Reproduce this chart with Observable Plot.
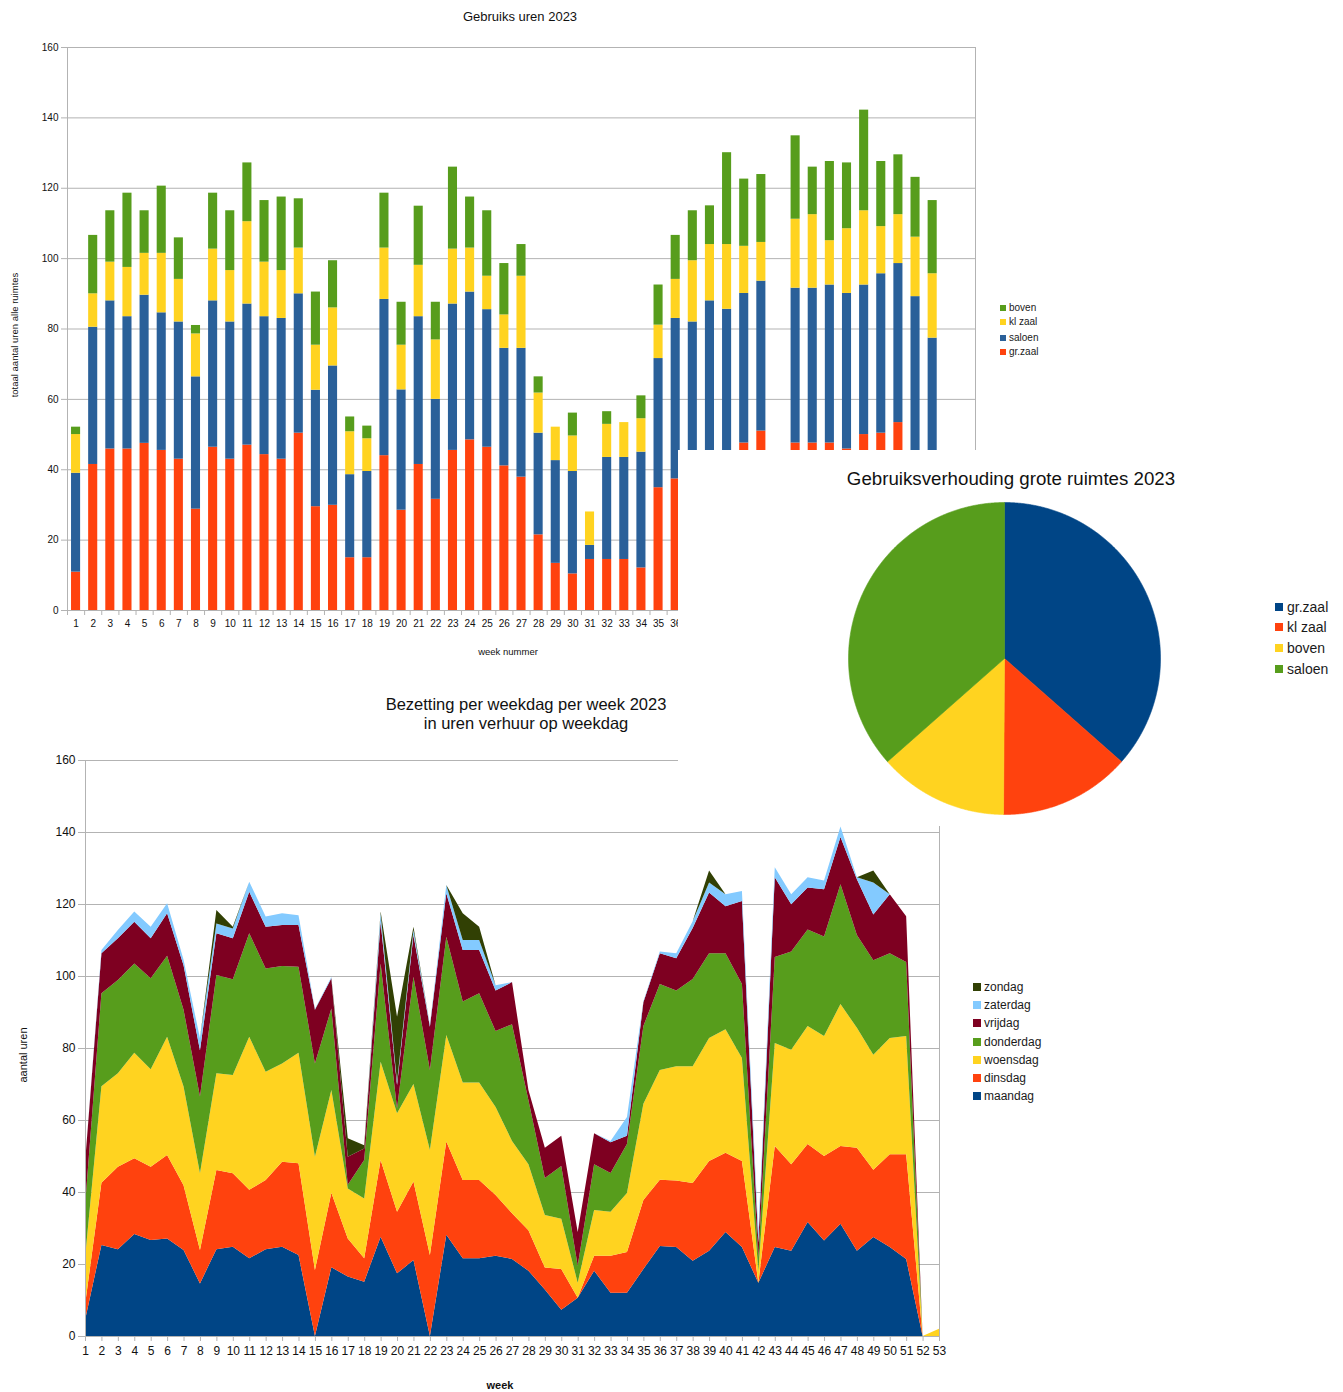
<!DOCTYPE html>
<html>
<head>
<meta charset="utf-8">
<script src="https://cdn.jsdelivr.net/npm/d3@7"></script>
<script src="https://cdn.jsdelivr.net/npm/@observablehq/plot@0.6"></script>
<style>
  body { margin: 0; background: #fff; font-family: "Liberation Sans", Arial, sans-serif; color: #111; }
  #root { position: relative; width: 1343px; height: 1392px; overflow: hidden; background: #fff; }
  .box { position: absolute; background: #fff; }
  .abs { position: absolute; white-space: nowrap; }
  .ctr { transform: translate(-50%, -50%); }
  .item { position: absolute; display: flex; align-items: center; white-space: nowrap; transform: translateY(-50%); }
  .sw { display: inline-block; }
  svg { overflow: visible; }
</style>
</head>
<body>
<div id="root"></div>
<script>
// ---------- categories ----------
const weeks = d3.range(1, 54);
const yTicks = [0, 20, 40, 60, 80, 100, 120, 140, 160];

// ---------- chart 1: Gebruiks uren 2023 (stacked bars) ----------
const topSeries = ["gr.zaal", "saloen", "kl zaal", "boven"];
const topColors = ["#ff420e", "#2a6099", "#ffd320", "#579d1c"];
const grZaal = [10.9,41.5,45.9,45.9,47.5,45.5,43.0,28.8,46.4,43.0,
  47.0,44.3,43.0,50.4,29.5,29.9,15.0,15.0,44.0,28.5,
  41.5,31.6,45.5,48.5,46.4,41.1,37.9,21.5,13.4,10.4,
  14.5,14.5,14.5,12.1,34.9,37.4,40,42,40,47.6,
  51.0,0,47.6,47.6,47.6,45.9,50.0,50.4,53.4,45,
  40,0,0];
const saloen = [28.1,39.0,42.1,37.6,42.1,39.1,39.0,37.6,41.6,39.0,
  40.1,39.2,40.0,39.6,33.1,39.6,23.6,24.5,44.4,34.2,
  42.0,28.4,41.6,42.0,39.1,33.4,36.6,28.9,29.2,29.1,
  4.0,29.0,29.0,32.9,36.7,45.6,42.0,46.0,45.6,42.5,
  42.6,0,44.0,44.0,44.9,44.2,42.5,45.3,45.2,44.2,
  37.4,0,0];
const klZaal = [11.0,9.5,11.0,14.0,11.9,16.9,12.1,12.2,14.7,14.6,
  23.4,15.5,13.6,13.0,12.8,16.5,12.2,9.3,14.6,12.7,
  14.6,16.9,15.6,12.5,9.5,9.5,20.5,11.4,9.5,10.1,
  9.5,9.4,9.9,9.5,9.5,11.1,17.4,16.0,18.4,13.4,
  11.0,0,19.6,20.9,12.6,18.4,21.1,13.4,13.9,16.9,
  18.3,0,0];
const boven = [2.1,16.6,14.6,21.1,12.1,19.1,11.8,2.4,15.9,17.0,
  16.7,17.5,20.9,14.0,15.1,13.4,4.2,3.6,15.6,12.2,
  16.8,10.7,23.3,14.5,18.6,14.6,9.0,4.6,0,6.5,
  0,3.6,0,6.5,11.4,12.5,14.2,11.0,26.1,19.1,
  19.3,0,23.7,13.5,22.5,18.7,28.6,18.5,17.0,17.0,
  20.8,0,0];
const topLegendOrder = ["boven", "kl zaal", "saloen", "gr.zaal"];

// ---------- chart 2: Gebruiksverhouding grote ruimtes 2023 (pie) ----------
const pieNames = ["gr.zaal", "kl zaal", "boven", "saloen"];
const pieValues = [36.5, 13.6, 13.4, 36.5];
const pieColors = ["#004586", "#ff420e", "#ffd320", "#579d1c"];

// ---------- chart 3: Bezetting per weekdag per week 2023 (stacked area) ----------
const days = ["maandag", "dinsdag", "woensdag", "donderdag", "vrijdag", "zaterdag", "zondag"];
const dayColors = ["#004586", "#ff420e", "#ffd320", "#579d1c", "#7e0021", "#83caff", "#314004"];
const maandag = [4.4,25.3,24.1,28.3,26.7,27.1,23.9,14.6,24.1,24.8,
  21.6,24.1,24.8,22.5,0,19.1,16.5,15.1,27.6,17.4,
  21.1,0,28.1,21.6,21.6,22.3,21.4,18.1,12.9,7.3,
  10.6,18.1,12.0,12.0,18.6,25.0,24.7,20.9,23.7,28.9,
  24.7,14.8,24.7,23.7,31.7,26.5,31.2,23.7,27.5,24.7,
  21.4,0,0];
const dinsdag = [4.2,17.3,22.9,21.1,20.3,23.2,18.0,9.3,22.0,20.4,
  19.0,19.2,23.6,25.5,18.3,20.7,10.6,6.5,21.3,17.1,
  21.8,22.5,25.9,21.7,21.7,16.9,12.7,11.3,6.1,11.3,
  0,4.2,10.3,11.3,19.2,18.4,18.5,21.6,24.9,22.0,
  23.9,0,28.1,24.0,21.6,23.5,21.6,28.6,18.7,25.8,
  29.1,0,0];
const woensdag = [13.0,26.8,26.0,29.3,27.1,32.8,27.4,21.3,26.9,27.3,
  42.5,30.1,27.3,30.7,31.5,28.5,13.9,16.6,27.3,27.4,
  27.1,29.2,29.6,27.1,27.1,24.4,20.1,18.3,14.6,14.0,
  4.2,12.7,12.2,16.4,26.7,30.5,31.7,32.4,34.2,34.3,
  28.6,3.2,28.6,31.8,32.8,33.3,39.4,33.3,31.9,32.3,
  32.8,0,2];
const donderdag = [14.4,25.8,25.9,24.8,25.3,22.5,21.3,21.3,27.3,26.6,
  28.8,28.7,27.1,23.9,25.9,22.7,1.0,10.7,27.3,1.3,
  29.8,22.2,27.3,22.5,24.8,21.1,32.4,17.8,10.3,14.6,
  4.7,12.7,10.8,13.6,21.6,23.9,21.1,24.3,23.5,21.1,
  20.6,4.0,23.9,27.3,26.8,27.7,33.3,25.8,26.3,23.5,
  20.6,0,0];
const vrijdag = [12.0,11.1,11.6,11.6,11.1,11.8,12.4,12.9,11.6,11.4,
  11.5,11.6,11.4,11.6,14.9,8.4,7.8,3.2,11.6,6.5,
  11.6,12.0,12.1,14.3,12.0,11.3,11.7,2.8,8.4,8.4,
  9.4,8.6,8.5,2.3,6.6,8.5,8.9,14.1,16.9,13.1,
  23.0,4.0,22.1,13.1,11.7,13.1,13.1,15.5,12.7,16.4,
  12.7,0,0];
const zaterdag = [0,0.9,2.3,2.8,3.2,2.8,1.5,3.3,2.7,2.7,
  2.8,2.8,3.2,2.7,0.2,0.3,0,0,2.3,0.9,
  1.4,0.5,2.3,2.8,2.8,1.4,0,0,0,0,
  0,0,0.4,5.2,0.3,0.5,1.4,1.9,2.8,3.3,
  2.8,3.0,2.8,2.8,2.8,2.4,2.9,0.5,8.9,0,
  0,0,0];
const zondag = [0,0,0,0,0,0,0,0,3.7,0.5,
  0,0,0,0,0,0,5.1,0.9,0.5,18.1,
  0.9,0,0,7.4,3.7,0,0,0,0,0,
  0,0,0,0,0,0,0,0,3.3,0,
  0,0,0,0,0,0,0,0,3.3,0,
  0,0,0];
const dayLegendOrder = ["zondag", "zaterdag", "vrijdag", "donderdag", "woensdag", "dinsdag", "maandag"];

// ---------- helpers ----------
const root = document.getElementById("root");
const FONT = "'Liberation Sans', Arial, sans-serif";
function box(left, top, width, height) {
  const d = document.createElement("div");
  d.className = "box";
  Object.assign(d.style, {left: left + "px", top: top + "px", width: width + "px", height: height + "px"});
  root.appendChild(d);
  return d;
}
function text(parent, str, x, y, css) {
  const d = document.createElement("div");
  d.className = "abs ctr";
  d.textContent = str;
  Object.assign(d.style, {left: x + "px", top: y + "px"}, css || {});
  parent.appendChild(d);
  return d;
}
function place(parent, node, left, top) {
  node.style.position = "absolute";
  node.style.left = left + "px";
  node.style.top = top + "px";
  parent.appendChild(node);
}
function legend(parent, names, colorOf, x, ys, sw, gap, fontSize) {
  names.forEach((n, i) => {
    const it = document.createElement("div");
    it.className = "item";
    Object.assign(it.style, {left: x + "px", top: ys[i] + "px", fontSize: fontSize + "px", lineHeight: "1", color: "#1a1a1a"});
    const s = document.createElement("span");
    s.className = "sw";
    Object.assign(s.style, {width: sw + "px", height: sw + "px", background: colorOf(n), marginRight: gap + "px"});
    it.appendChild(s);
    it.appendChild(document.createTextNode(n));
    parent.appendChild(it);
  });
}
const plotStyle = {background: "transparent", fontFamily: FONT, overflow: "visible", color: "#111"};

// ================= Chart 1 =================
const b1 = box(0, 0, 1343, 662);
const topRows = [];
weeks.forEach((w, i) => {
  topRows.push({week: w, series: "gr.zaal", value: grZaal[i]});
  topRows.push({week: w, series: "saloen", value: saloen[i]});
  topRows.push({week: w, series: "kl zaal", value: klZaal[i]});
  topRows.push({week: w, series: "boven", value: boven[i]});
});
const topW = 990, topML = 67, topMR = 15;
const stepTop = (topW - topML - topMR) / weeks.length;
const topPlot = Plot.plot({
  width: topW, height: 630,
  marginTop: 17, marginBottom: 50, marginLeft: topML, marginRight: topMR,
  style: plotStyle,
  x: {type: "band", domain: weeks, paddingInner: 0.47, paddingOuter: 0.235, round: false, axis: null},
  y: {domain: [0, 160], axis: null},
  color: {domain: topSeries, range: topColors},
  marks: [
    Plot.gridY(yTicks, {stroke: "#b3b3b3", strokeOpacity: 1}),
    Plot.barY(topRows, {x: "week", y: "value", fill: "series", order: topSeries}),
    Plot.frame({stroke: "#b3b3b3"}),
    Plot.axisY({ticks: yTicks, tickSize: 6, tickPadding: 3, fontSize: 10, stroke: "#b3b3b3", label: null}),
    Plot.axisX({tickSize: 0, tickPadding: 9, fontSize: 10, label: null}),
    Plot.axisX({tickSize: 5, tickFormat: () => "", dx: -stepTop / 2, stroke: "#b3b3b3", label: null})
  ]
});
place(b1, topPlot, 0, 30);
text(b1, "Gebruiks uren 2023", 520, 16, {fontSize: "13px"});
text(b1, "week nummer", 508, 651, {fontSize: "9.5px"});
text(b1, "totaal aantal uren alle ruimtes", 14, 335, {fontSize: "9.5px", transform: "translate(-50%,-50%) rotate(-90deg)"});
const topColorOf = n => topColors[topSeries.indexOf(n)];
legend(b1, topLegendOrder, topColorOf, 1000, [307.5, 322, 337.5, 352], 6, 3, 10);

// ================= Chart 3 =================
const b3 = box(0, 665, 1343, 727);
const dayArrays = [maandag, dinsdag, woensdag, donderdag, vrijdag, zaterdag, zondag];
const bottomRows = [];
weeks.forEach((w, i) => {
  days.forEach((d, j) => bottomRows.push({week: w, day: d, value: dayArrays[j][i]}));
});
const bottomPlot = Plot.plot({
  width: 960, height: 652,
  marginTop: 20, marginBottom: 56, marginLeft: 85, marginRight: 21,
  style: plotStyle,
  x: {domain: [1, 53], axis: null},
  y: {domain: [0, 160], axis: null},
  color: {domain: days, range: dayColors},
  marks: [
    Plot.gridY(yTicks, {stroke: "#b3b3b3", strokeOpacity: 1}),
    Plot.areaY(bottomRows, {x: "week", y: "value", fill: "day", order: days, curve: "linear"}),
    Plot.frame({stroke: "#b3b3b3"}),
    Plot.axisY({ticks: yTicks, tickSize: 7, tickPadding: 3, fontSize: 12, stroke: "#b3b3b3", label: null}),
    Plot.axisX({ticks: weeks, tickSize: 5, tickPadding: 5, fontSize: 12, stroke: "#b3b3b3", tickFormat: d => String(d), label: null})
  ]
});
place(b3, bottomPlot, 0, 75);
text(b3, "Bezetting per weekdag per week 2023", 526, 704 - 665, {fontSize: "16.5px"});
text(b3, "in uren verhuur op weekdag", 526, 723 - 665, {fontSize: "16.5px"});
text(b3, "aantal uren", 23, 1055 - 665, {fontSize: "11px", transform: "translate(-50%,-50%) rotate(-90deg)"});
text(b3, "week", 500, 1385 - 665, {fontSize: "11px", fontWeight: "bold"});
const dayColorOf = n => dayColors[days.indexOf(n)];
legend(b3, dayLegendOrder, dayColorOf, 973, [986.5, 1005, 1023, 1041.5, 1059.5, 1077.5, 1096].map(y => y - 665), 8, 3, 12);

// ================= Chart 2 (pie, on top) =================
const b2 = box(678, 450, 665, 376);
const arcs = d3.pie().sort(null)(pieValues);
const piePts = [];
arcs.forEach((a, i) => {
  const name = pieNames[i];
  piePts.push({name, px: 0, py: 0});
  const n = Math.max(2, Math.ceil((a.endAngle - a.startAngle) / 0.005));
  for (let k = 0; k <= n; k++) {
    const t = a.startAngle + (a.endAngle - a.startAngle) * k / n;
    piePts.push({name, px: Math.sin(t), py: Math.cos(t)});
  }
  piePts.push({name, px: 0, py: 0});
});
const piePlot = Plot.plot({
  width: 330, height: 330,
  margin: 9,
  style: plotStyle,
  x: {domain: [-1, 1], axis: null},
  y: {domain: [-1, 1], axis: null},
  color: {domain: pieNames, range: pieColors},
  marks: [
    Plot.line(piePts, {x: "px", y: "py", z: "name", fill: "name", stroke: "name", strokeWidth: 0.6, curve: "linear"})
  ]
});
place(b2, piePlot, 839 - 678, 493 - 450);
text(b2, "Gebruiksverhouding grote ruimtes 2023", 1011 - 678, 479 - 450, {fontSize: "18.7px"});
const pieColorOf = n => pieColors[pieNames.indexOf(n)];
legend(b2, pieNames, pieColorOf, 1275 - 678, [606.5, 626.5, 647.5, 668.5].map(y => y - 450), 8, 4, 14);
</script>
</body>
</html>
